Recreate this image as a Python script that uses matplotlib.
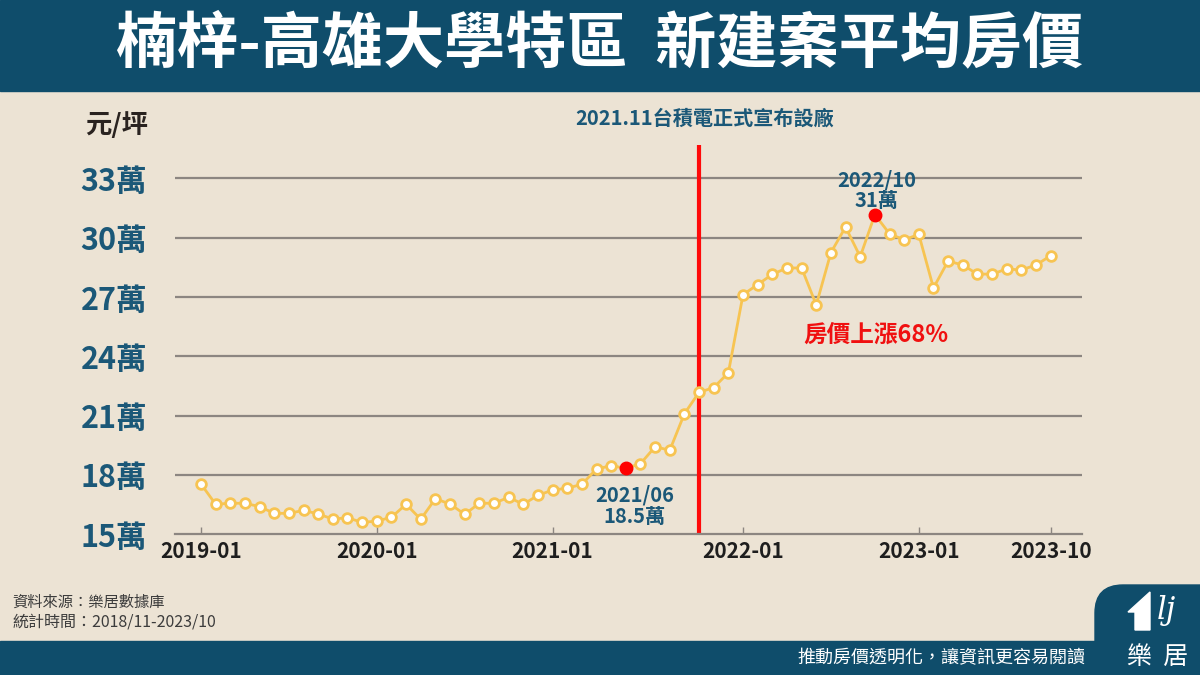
import matplotlib.pyplot as plt
from matplotlib.patches import Rectangle, FancyBboxPatch, Polygon

plt.rcParams['font.family'] = ['Noto Sans CJK TC', 'DejaVu Sans']

# monthly average price (萬元/坪)
prices = [17.54, 16.52, 16.57, 16.57, 16.40, 16.06, 16.06, 16.21, 16.03, 15.77,
          15.84, 15.60, 15.67, 15.86, 16.52, 15.76, 16.80, 16.53, 16.01, 16.57,
          16.57, 16.87, 16.52, 16.97, 17.24, 17.33, 17.53, 18.30, 18.47, 18.34,
          18.57, 19.43, 19.25, 21.10, 22.18, 22.42, 23.17, 27.12, 27.63, 28.15,
          28.47, 28.47, 26.60, 29.25, 30.54, 29.04, 31.17, 30.20, 29.89, 30.17,
          27.46, 28.82, 28.62, 28.16, 28.16, 28.42, 28.37, 28.62, 29.09]
idx = list(range(len(prices)))

tick_pos = [0, 12, 24, 37, 49, 58]
tick_labels = ["2019-01", "2020-01", "2021-01", "2022-01", "2023-01", "2023-10"]
y_ticks = [15, 18, 21, 24, 27, 30, 33]

highlight = [29, 46]
event_idx = 34

BG = "#ECE3D4"
NAVY = "#0F4D6B"
TEAL = "#1B5878"
YELLOW = "#F7C452"

fig = plt.figure(figsize=(12, 6.75), dpi=100)
fig.patch.set_facecolor(BG)

# background layer in pixel coordinates
bg = fig.add_axes([0, 0, 1, 1], zorder=0)
bg.set_xlim(0, 1200)
bg.set_ylim(675, 0)
bg.axis("off")
bg.add_patch(Rectangle((0, 0), 1200, 91, color=NAVY))
bg.add_patch(Rectangle((0, 641), 1200, 40, color=NAVY))
bg.add_patch(FancyBboxPatch((1095, 585), 140, 120, boxstyle="round,pad=0,rounding_size=28",
                            color=NAVY))
bg.text(600, 45, "楠梓-高雄大學特區  新建案平均房價", color="white", fontsize=44,
        fontweight="bold", ha="center", va="center")
bg.text(117, 125, "元/坪", color="#2A2320", fontsize=19, fontweight="bold",
        ha="center", va="center")
bg.text(705, 118, "2021.11台積電正式宣布設廠", color=TEAL, fontsize=14.5,
        fontweight="bold", ha="center", va="center")
bg.text(12, 602, "資料來源：樂居數據庫", color="#3C3C3C", fontsize=11, va="center")
bg.text(12, 622, "統計時間：2018/11-2023/10", color="#3C3C3C", fontsize=11.5, va="center")
bg.text(1085, 658, "推動房價透明化，讓資訊更容易閱讀", color="white", fontsize=13,
        ha="right", va="center")
# logo
bg.add_patch(Polygon([[1135, 630], [1135, 612], [1128, 612], [1150, 592], [1150, 630]],
                     closed=True, color="white"))
bg.text(1166, 610, "lj", color="white", fontsize=22, style="italic", family="DejaVu Serif",
        ha="center", va="center")
bg.text(1158, 657, "樂  居", color="white", fontsize=18, ha="center", va="center")

# main chart
ax = fig.add_axes([175 / 1200, 1 - 534.3 / 675, (1082 - 175) / 1200, (534.3 - 145) / 675],
                  zorder=1)
ax.set_facecolor("none")
ax.set_xlim(-1.775, 60.14)
ax.set_ylim(15, 34.69)

for v in y_ticks[1:]:
    ax.axhline(v, color="#8C8681", lw=1.6, zorder=1)
for s in ["top", "right", "left"]:
    ax.spines[s].set_visible(False)
ax.spines["bottom"].set_color("#8C8681")
ax.spines["bottom"].set_linewidth(1.6)

ax.axvline(event_idx, color="#FF0A0A", lw=3, zorder=2)

ax.plot(idx, prices, color=YELLOW, lw=2, marker="o", ms=7, mfc="white",
        mec=YELLOW, mew=2, zorder=3)
ax.plot([idx[i] for i in highlight], [prices[i] for i in highlight], "o",
        color="#FF0000", ms=9, zorder=4)

ax.set_yticks(y_ticks)
ax.set_yticklabels([f"{v}萬" for v in y_ticks], color=TEAL, fontsize=22, fontweight="bold")
ax.tick_params(axis="y", length=0, pad=20)

ax.set_xticks(tick_pos)
ax.set_xticklabels(tick_labels, fontsize=15, fontweight="bold", color="#1E1E1E")
ax.tick_params(axis="x", direction="in", length=5, color="#8C8681", width=1, pad=5)

ax.text(29.6, 16.45, "2021/06\n18.5萬", color=TEAL, fontsize=14.5, fontweight="bold",
        ha="center", va="center", linespacing=1.0)
ax.text(46.1, 32.4, "2022/10\n31萬", color=TEAL, fontsize=14.5, fontweight="bold",
        ha="center", va="center", linespacing=1.0)
ax.text(46.1, 25.1, "房價上漲68%", color="#F01010", fontsize=17, fontweight="bold",
        ha="center", va="center")

fig.savefig("out.png", dpi=100, facecolor=BG)
